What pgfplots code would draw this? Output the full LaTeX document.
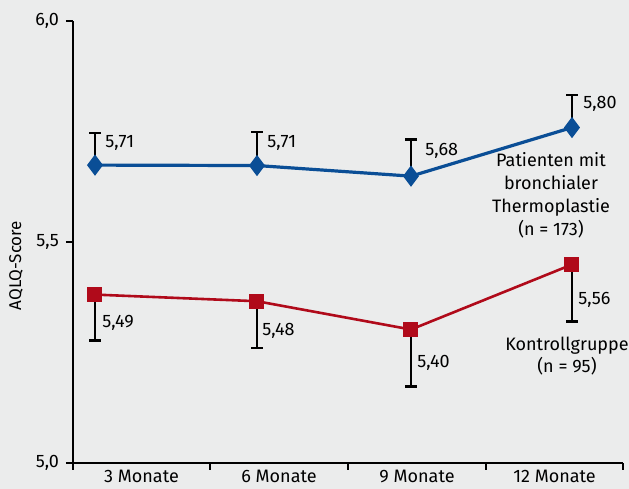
\documentclass[border=0pt]{standalone}
\usepackage{pgfplots}
\pgfplotsset{compat=1.18}
\usepackage{fontspec}
\setmainfont{Fira Sans}
\definecolor{bg}{RGB}{235,236,236}
\definecolor{myblue}{RGB}{10,78,150}
\definecolor{myred}{RGB}{176,10,26}
\begin{document}
\begin{tikzpicture}
\useasboundingbox[fill=bg] (0,0) rectangle (314.5pt,244.5pt);
\node[rotate=90, font=\fontsize{8.5}{10}\selectfont] at (8pt,111.75pt) {AQLQ-Score};
\begin{axis}[at={(36.5pt,13pt)}, anchor=south west, scale only axis,
  width=275pt, height=221pt,
  xmin=73, xmax=623, ymin=5, ymax=6,
  axis x line*=bottom, axis y line*=left,
  axis line style={line width=0.6pt, -},
  tick align=outside, major tick length=3.5pt,
  tick style={black, line width=0.6pt},
  xtick={73,210,348,486,623}, xticklabels={},
  extra x ticks={141.5,279,417,554.5},
  extra x tick labels={3 Monate,6 Monate,9 Monate,12 Monate},
  extra x tick style={major tick length=0pt},
  ytick={5,5.5,6},
  yticklabel style={/pgf/number format/.cd, use comma, fixed, fixed zerofill, precision=1},
  /pgf/number format/assume math mode=true,
  ticklabel style={font=\fontsize{9}{11}\selectfont},
  clip=false,
]
\addplot[myblue, line width=1.6pt, mark=diamond*, mark size=4pt, mark options={solid},
  error bars/.cd, y dir=plus, y explicit,
  error bar style={black, line width=1pt},
  error mark options={black, line width=1.1pt, mark size=2.8pt, rotate=90}]
  table[x=x, y=y, y error=e] {
x y e
95 5.674 0.073
257 5.673 0.075
411 5.649 0.083
572 5.759 0.074
};
\addplot[myred, line width=1.3pt, mark=square*, mark size=3.1pt, mark options={solid},
  error bars/.cd, y dir=minus, y explicit,
  error bar style={black, line width=1pt},
  error mark options={black, line width=1.1pt, mark size=2.8pt, rotate=90}]
  table[x=x, y=y, y error=e] {
x y e
95 5.381 0.104
257 5.366 0.106
411 5.302 0.129
572 5.449 0.129
};
\begin{scope}[every node/.style={font=\fontsize{9}{11}\selectfont, anchor=west, inner sep=0pt}]
\node at (axis cs:105,5.723) {5,71};
\node at (axis cs:267,5.723) {5,71};
\node at (axis cs:425,5.707) {5,68};
\node at (axis cs:583,5.812) {5,80};
\node at (axis cs:102,5.318) {5,49};
\node at (axis cs:262,5.299) {5,48};
\node at (axis cs:417,5.227) {5,40};
\node at (axis cs:578,5.370) {5,56};
\end{scope}
\node[font=\fontsize{9}{11.5}\selectfont, align=center, inner sep=0pt] at (axis cs:551,5.605) {Patienten mit\\bronchialer\\Thermoplastie\\(n = 173)};
\node[font=\fontsize{9}{11}\selectfont, align=center, inner sep=0pt] at (axis cs:567,5.243) {Kontrollgruppe\\(n = 95)};
\end{axis}
\end{tikzpicture}
\end{document}
